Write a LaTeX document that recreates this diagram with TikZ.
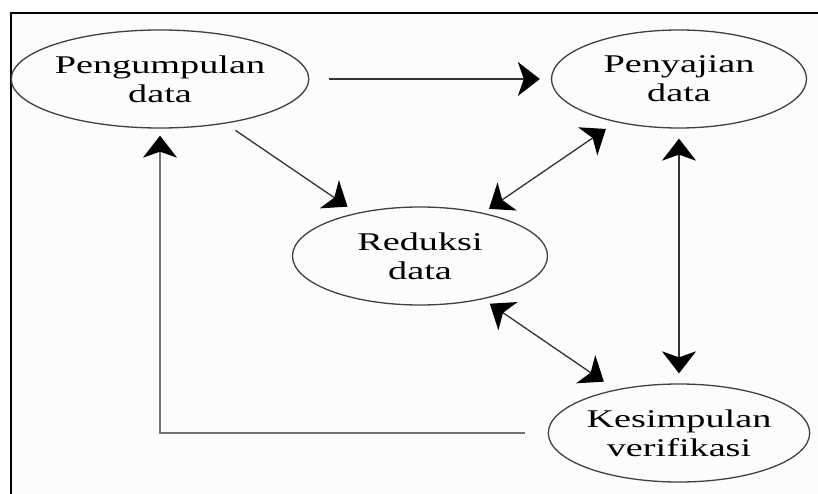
\documentclass[tikz,border=0pt]{standalone}
\usepackage{fontspec}
\setmainfont[FakeStretch=1.5]{Liberation Serif}
\usetikzlibrary{shapes.geometric,arrows.meta}
\tikzset{
  tahap/.style={ellipse, draw=black!75, line width=1.3pt, minimum width=255pt,
    minimum height=98pt, inner sep=0pt, align=center, text=black,
    font=\fontsize{25.5}{29}\selectfont},
  ujung/.tip={Stealth[length=22pt,width=34pt,inset=6pt,color=black]},
  alur/.style={draw=black!80, line width=1.3pt, -ujung},
  dua/.style={alur, ujung-ujung}
}
\begin{document}
\begin{tikzpicture}[x=1pt,y=-1pt]
      \useasboundingbox (0,0) rectangle (818,494);
      \fill[white] (0,0) rectangle (818,494);
      \fill[black!1] (11,13) rectangle (818,494);
      \draw[line width=2pt] (11,494) -- (11,13) -- (818,13);
      \node[tahap] (kumpul) at (160,79) {Pengumpulan\\data};
      \node[tahap] (saji) at (679,79) {Penyajian\\data};
      \node[tahap] (reduksi) at (420,256) {Reduksi\\data};
      \node[tahap] (simpul) at (679,433) {Kesimpulan\\verifikasi};
      \draw[alur, shorten <=20pt, shorten >=11pt] (kumpul) -- (saji);
      \draw[alur, shorten <=12pt, shorten >=11pt] (kumpul) -- (reduksi);
      \draw[dua, shorten <=7pt, shorten >=12pt] (reduksi) -- (saji);
      \draw[dua, shorten <=8pt, shorten >=14pt] (reduksi) -- (simpul);
      \draw[dua, shorten <=10pt, shorten >=10pt] (saji) -- (simpul);
      \draw[alur, draw=black!55, shorten <=23pt, shorten >=7pt] (simpul) -| (kumpul);
    \end{tikzpicture}
\end{document}
